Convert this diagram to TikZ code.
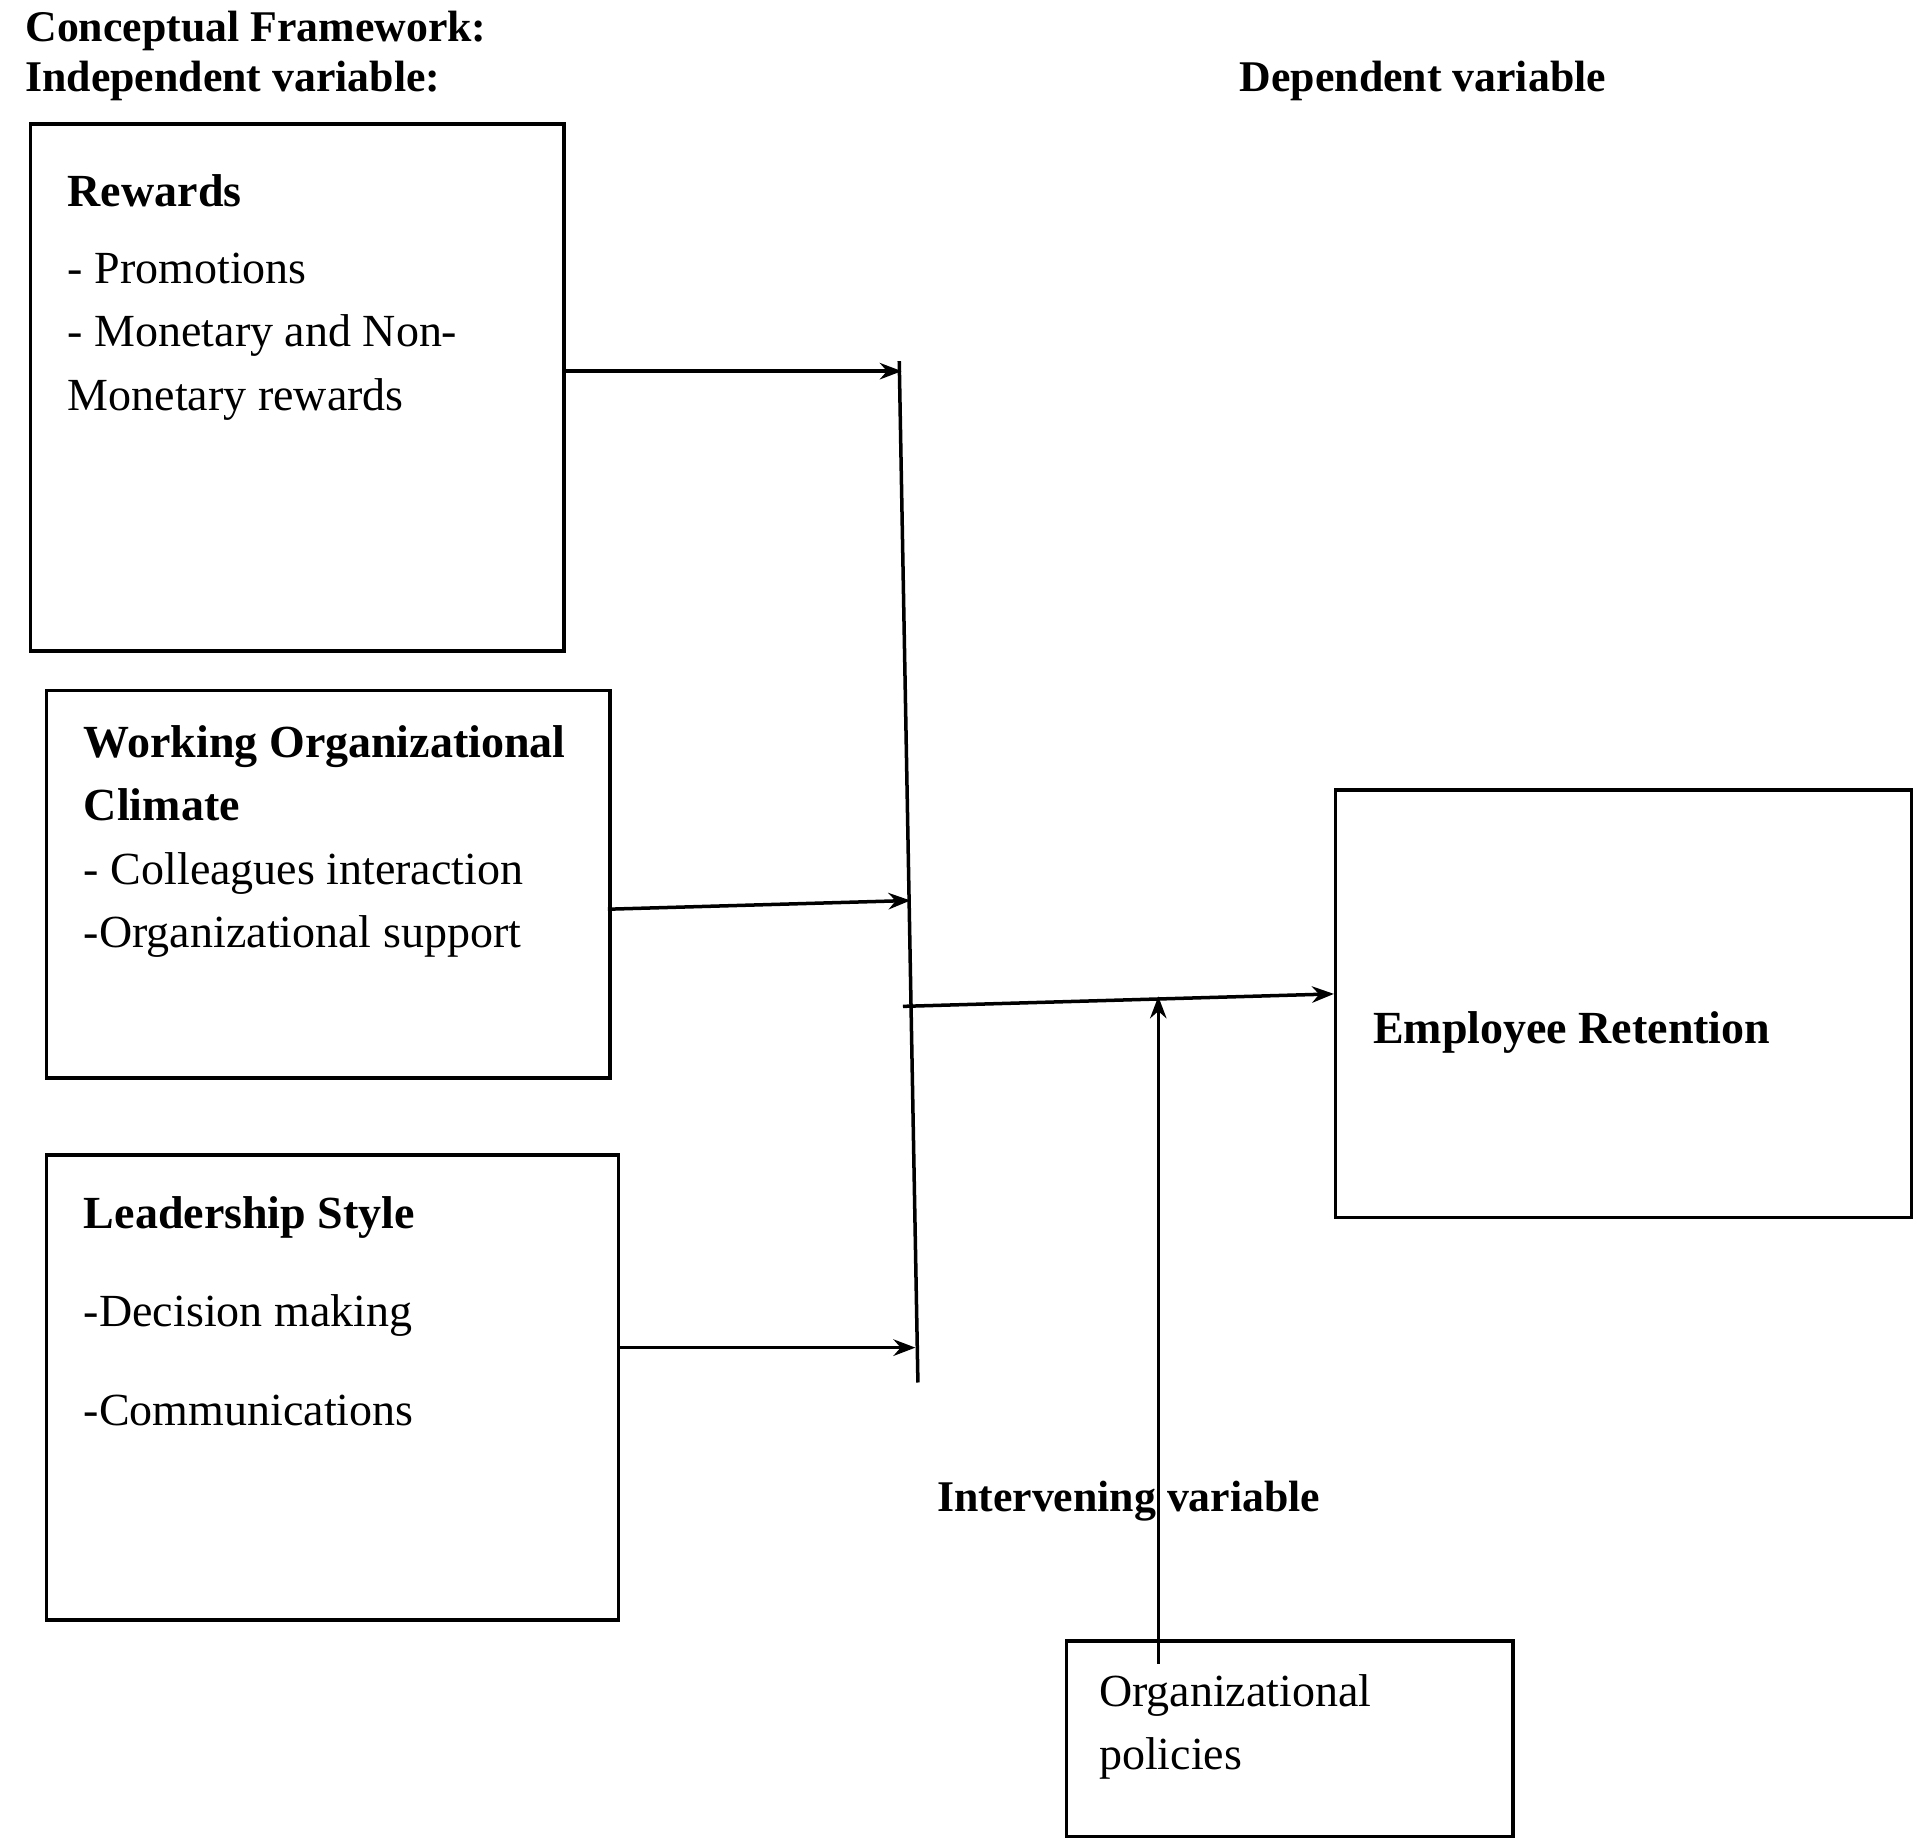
\documentclass[tikz,border=0pt]{standalone}
\usepackage{fontspec}
\setmainfont{Liberation Serif}
\usetikzlibrary{arrows.meta}
\begin{document}
\begin{tikzpicture}[x=0.01cm,y=-0.01cm,
	box/.style={draw,thick,anchor=north west,inner sep=0pt},
	txt/.style={anchor=north west,align=left,font=\fontsize{10.5}{14.5}\selectfont},
	hd/.style={anchor=west,font=\fontsize{10}{12}\selectfont\bfseries},
	link/.style={thick,-{Stealth[length=5pt]}}]
	\useasboundingbox (0,0) rectangle (1548,1475);

	\node[hd] (ttl) at (8,25) {Conceptual Framework:};
	\node[hd] (ind) at (8,65) {Independent variable:};
	\node[hd] (dep) at (983,65) {Dependent variable};

	\node[box,minimum width=4.28cm,minimum height=4.23cm] (rew) at (23,98) {};
	\node[txt] (rewt) at (42,128) {\textbf{Rewards}\\[3pt]- Promotions\\- Monetary and Non-\\Monetary rewards};

	\node[box,minimum width=4.52cm,minimum height=3.11cm] (clm) at (36,553) {};
	\node[txt] (clmt) at (55,570) {\textbf{Working Organizational}\\\textbf{Climate}\\- Colleagues interaction\\-Organizational support};

	\node[box,minimum width=4.59cm,minimum height=3.73cm] (lds) at (36,926) {};
	\node[txt] (ldst) at (55,948) {\textbf{Leadership Style}\\[8pt]-Decision making\\[8pt]-Communications};

	\node[box,minimum width=4.62cm,minimum height=3.43cm] (ret) at (1071,633) {};
	\node[txt] (rett) at (1090,800) {\textbf{Employee Retention}};

	\node[box,minimum width=3.58cm,minimum height=1.57cm] (pol) at (855,1316) {};
	\node[txt] (polt) at (870,1332) {Organizational\\policies};

	\node[hd] (itv) at (740,1205) {Intervening variable};

	% joint line
	\coordinate (j1) at (724,298);
	\coordinate (j2) at (731,723);
	\coordinate (j3) at (735,1082);
	\coordinate (jt) at (737,1110);
	\coordinate (jm) at (725,808);
	\coordinate (m) at (930,800);
	\draw[thick] (722,290) -- (jt);
	\draw[link] (rew.east |- j1) -- (j1);
	\draw[link] (488,730) -- (j2);
	\draw[link] (lds.east |- j3) -- (j3);
	\draw[link] (jm) -- (ret.west |- 0,798);
	\draw[link] (930,1336) -- (m);
\end{tikzpicture}
\end{document}
